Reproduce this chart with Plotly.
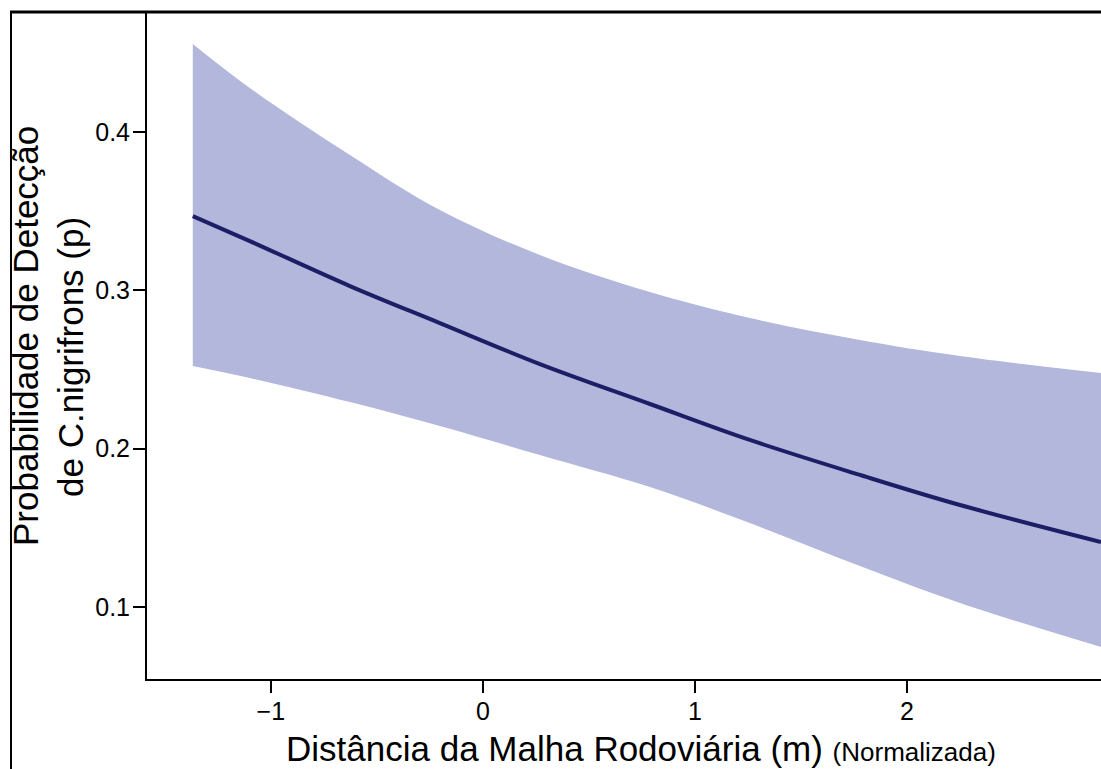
import plotly.graph_objects as go

# Predicted detection probability against normalised road-network distance
distancia = [-1.368, -1.099, -0.627, -0.203, 0.269, 0.788, 1.259, 1.778, 2.250, 2.915]
prob_ajustada = [0.3469, 0.3311, 0.3027, 0.2793, 0.2534, 0.2282, 0.2055, 0.1834, 0.1644, 0.1410]
ic_superior = [0.4556, 0.4278, 0.3855, 0.3507, 0.3223, 0.2989, 0.2825, 0.2686, 0.2585, 0.2478]
ic_inferior = [0.2522, 0.2446, 0.2294, 0.2143, 0.1960, 0.1757, 0.1530, 0.1258, 0.1025, 0.0747]

x_ticks = [-1, 0, 1, 2]
y_ticks = [0.1, 0.2, 0.3, 0.4]

W, H = 1101, 769
ML, MR, MT, MB = 147, 0, 12, 90
PW, PH = W - ML - MR, H - MT - MB


def px(xp):
    return (xp - ML) / PW


def py(yp):
    return (H - MB - yp) / PH


band = "#b3b7dc"
line_col = "#1c1f66"
font = "Liberation Sans, Arial, sans-serif"

fig = go.Figure()
fig.add_trace(go.Scatter(x=distancia, y=ic_inferior, mode="lines",
                         line=dict(width=0, shape="spline", smoothing=1.0, color=band),
                         showlegend=False, hoverinfo="skip"))
fig.add_trace(go.Scatter(x=distancia, y=ic_superior, mode="lines",
                         line=dict(width=0, shape="spline", smoothing=1.0, color=band),
                         fill="tonexty", fillcolor=band,
                         showlegend=False, hoverinfo="skip"))
fig.add_trace(go.Scatter(x=distancia, y=prob_ajustada, mode="lines",
                         line=dict(width=4, shape="spline", smoothing=1.0, color=line_col),
                         showlegend=False))

axis_common = dict(showgrid=False, zeroline=False, showline=True,
                   linecolor="black", linewidth=2, ticks="outside",
                   ticklen=12, tickwidth=2, tickcolor="black",
                   tickfont=dict(family=font, size=25, color="black"))

fig.update_xaxes(range=[-1.584, 2.915], tickvals=x_ticks,
                 ticktext=["\u22121", "0", "1", "2"], ticklabelstandoff=-3,
                 **axis_common)
fig.update_yaxes(range=[0.0545, 0.4758], tickvals=y_ticks,
                 ticktext=["0.1", "0.2", "0.3", "0.4"], ticklabelstandoff=-2,
                 **axis_common)

shapes = [
    # outer frame: top and left edges
    dict(type="line", xref="paper", yref="paper", x0=px(10), x1=px(W + 5),
         y0=py(12), y1=py(12), line=dict(color="black", width=3)),
    dict(type="line", xref="paper", yref="paper", x0=px(11), x1=px(11),
         y0=py(11), y1=py(H + 5), line=dict(color="black", width=2)),
]

annotations = [
    dict(text="Distância da Malha Rodoviária (m) <span style='font-size:26px'>(Normalizada)</span>",
         xref="paper", yref="paper", x=px(641), y=py(748),
         xanchor="center", yanchor="middle", showarrow=False,
         font=dict(family=font, size=35, color="black")),
    dict(text="Probabilidade de Detecção", textangle=-90,
         xref="paper", yref="paper", x=px(25), y=py(336),
         xanchor="center", yanchor="middle", showarrow=False,
         font=dict(family=font, size=35, color="black")),
    dict(text="de C.nigrifrons (p)", textangle=-90,
         xref="paper", yref="paper", x=px(71), y=py(357),
         xanchor="center", yanchor="middle", showarrow=False,
         font=dict(family=font, size=35, color="black")),
]

fig.update_layout(width=W, height=H,
                  margin=dict(l=ML, r=MR, t=MT, b=MB, pad=0),
                  paper_bgcolor="white", plot_bgcolor="white",
                  shapes=shapes, annotations=annotations,
                  font=dict(family=font))

fig.write_html("out.html", config={"displayModeBar": False})
